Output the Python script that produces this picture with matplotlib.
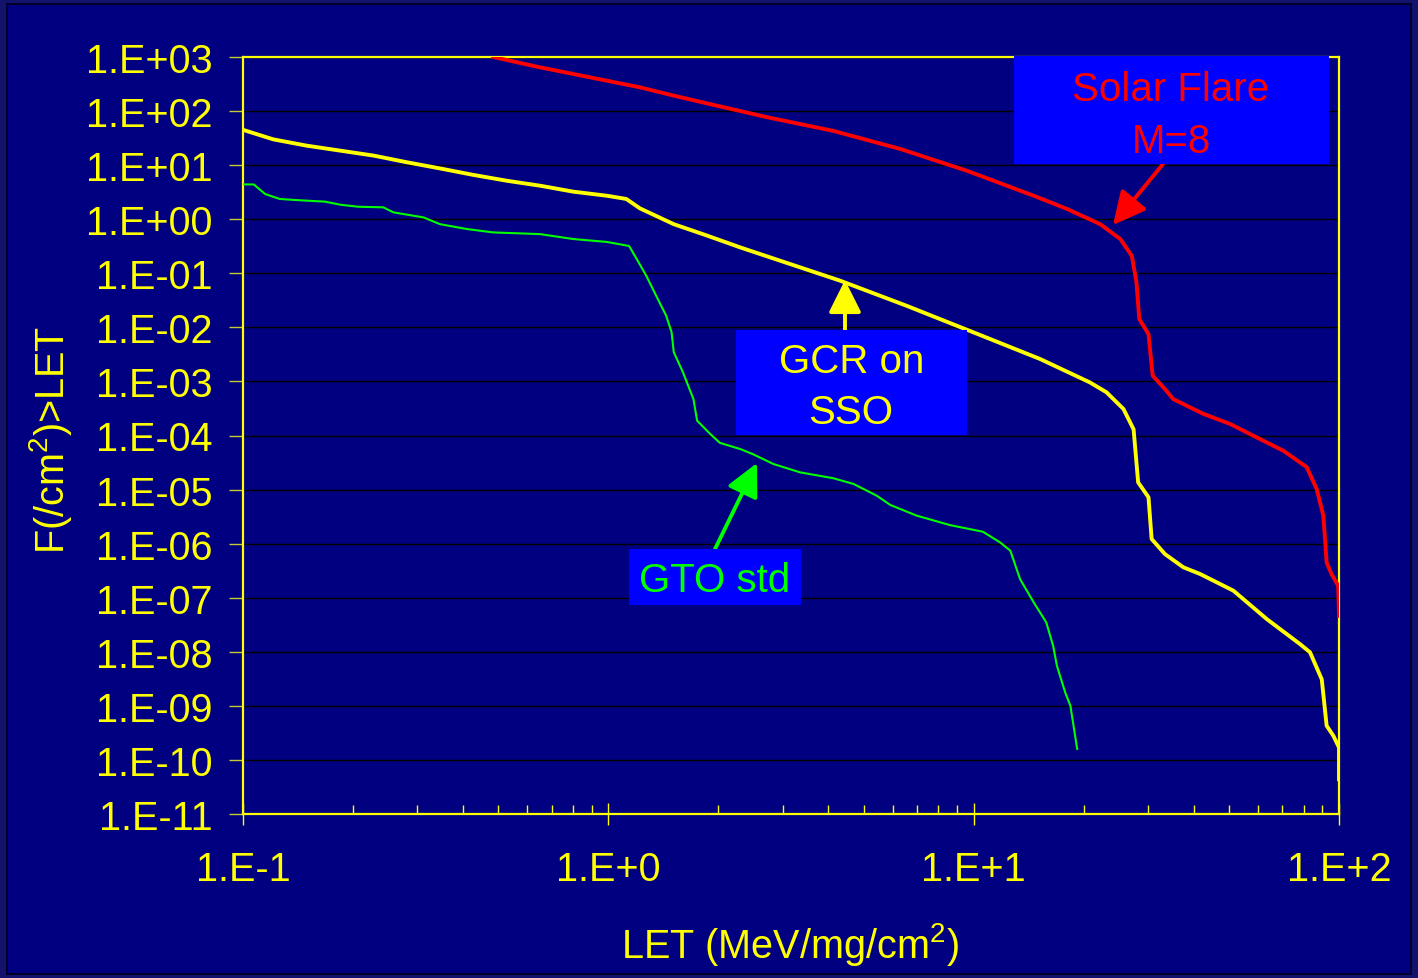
import matplotlib
matplotlib.use("Agg")
import matplotlib.pyplot as plt
from matplotlib.ticker import FixedLocator, FuncFormatter, NullLocator, LogLocator
from matplotlib.patches import Rectangle
import math

plt.rcParams['font.family'] = ['Liberation Sans', 'DejaVu Sans']
plt.rcParams['mathtext.fontset'] = 'custom'
plt.rcParams['mathtext.rm'] = 'Liberation Sans'
plt.rcParams['mathtext.default'] = 'regular'

# ---------------- data ----------------
gcr_let = [0.1, 0.121, 0.149, 0.185, 0.228, 0.281, 0.346, 0.427, 0.527, 0.650, 0.802, 0.99,
           1.12, 1.22, 1.51, 1.86, 2.30, 4.31, 6.56, 9.98, 15.2, 20.8, 23.1, 25.7, 27.4,
           28.2, 30.1, 30.7, 33.4, 37.5, 41.7, 51.4, 63.4, 78.2, 83.3, 89.7, 92.5, 96.5,
           100, 100]
gcr_flux = [45, 30, 23, 18.5, 15, 11.3, 8.7, 6.6, 5.15, 4.17, 3.23, 2.72,
            2.37, 1.59, 0.81, 0.50, 0.30, 0.073, 0.025, 0.0081, 0.0026, 9.6e-4, 6.3e-4, 3.1e-4, 1.3e-4,
            1.36e-5, 7.2e-6, 1.22e-6, 6.4e-7, 3.65e-7, 2.74e-7, 1.35e-7, 4.04e-8, 1.39e-8, 9.8e-9,
            3.1e-9, 4.3e-10, 2.8e-10, 1.7e-10, 4.4e-11]

flare_let = [0.484, 0.650, 0.802, 0.99, 1.22, 1.51, 1.86, 2.72, 4.13, 6.30, 9.57, 14.6, 18.0,
             22.2, 25.2, 27.1, 27.9, 28.4, 30.1, 30.9, 33.4, 35.2, 42.6, 50.4, 58.3, 70.5,
             81.6, 86.9, 90.6, 92.5, 95.4, 99.5, 100]
flare_flux = [1000, 644, 485, 365, 275, 193, 139, 77, 43, 19.9, 7.9, 2.72, 1.55,
              0.81, 0.43, 0.21, 0.068, 0.0143, 0.0075, 1.28e-3, 7.2e-4, 4.7e-4, 2.5e-4, 1.63e-4,
              9.9e-5, 5.2e-5, 2.6e-5, 1.02e-5, 3.3e-6, 4.5e-7, 2.74e-7, 1.67e-7, 4.6e-8]

gto_let = [0.1, 0.107, 0.115, 0.126, 0.137, 0.168, 0.185, 0.207, 0.242, 0.258, 0.312, 0.346,
           0.409, 0.484, 0.650, 0.802, 0.99, 1.14, 1.21, 1.27, 1.38, 1.44, 1.49, 1.51, 1.60,
           1.71, 1.75, 1.90, 2.02, 2.30, 2.49, 2.83, 3.35, 4.13, 4.69, 5.43, 5.91, 6.98, 8.62,
           10.6, 11.8, 12.6, 13.4, 14.6, 15.8, 16.5, 16.9, 17.8, 18.4, 19.2]
gto_flux = [4.4, 4.4, 2.92, 2.37, 2.28, 2.11, 1.85, 1.70, 1.66, 1.34, 1.08, 0.81,
            0.66, 0.57, 0.53, 0.43, 0.38, 0.32, 0.16, 0.09, 0.029, 0.0164, 0.0081, 0.0035, 0.00148,
            4.7e-4, 1.88e-4, 1.07e-4, 7.3e-5, 5.6e-5, 4.5e-5, 2.97e-5, 2.08e-5, 1.62e-5, 1.27e-5,
            7.7e-6, 5.2e-6, 3.3e-6, 2.2e-6, 1.66e-6, 1.06e-6, 7.4e-7, 2.2e-7, 8.2e-8, 3.5e-8,
            1.29e-8, 5.5e-9, 1.78e-9, 1.0e-9, 1.6e-10]

x_ticks = [0.1, 1, 10, 100]
y_ticks = [1e-11, 1e-10, 1e-9, 1e-8, 1e-7, 1e-6, 1e-5, 1e-4, 1e-3, 1e-2, 1e-1, 1, 1e1, 1e2, 1e3]

x_label = 'LET (MeV/mg/cm$^{2}$)'
y_label = 'F(/cm$^{2}$)>LET'
label_flare = ['Solar Flare', 'M=8']
label_gcr = ['GCR on', 'SSO']
label_gto = ['GTO std']

# ---------------- style ----------------
NAVY = '#000080'
YEL = '#FFFF00'
RED = '#FF0000'
GRN = '#00FF00'
BOXBLUE = '#0000FF'
W, H = 1418, 979
FS = 28.5
FSA = 29

fig = plt.figure(figsize=(W / 100, H / 100), dpi=100)
fig.patch.set_facecolor('#13136b')
fig.add_artist(Rectangle((7 / W, 4 / H), (W - 14) / W, (H - 9) / H, transform=fig.transFigure,
                         facecolor=NAVY, edgecolor='#000030', linewidth=1.5, zorder=-10))


def fx(px):
    return px / W


def fy(py):
    return 1 - py / H


ax = fig.add_axes([fx(243), fy(815), fx(1339) - fx(243), fy(58) - fy(815)])
ax.set_facecolor(NAVY)
ax.set_xscale('log')
ax.set_yscale('log')
ax.set_xlim(0.1, 100)
ax.set_ylim(1e-11, 1e3)

for s in ax.spines.values():
    s.set_color(YEL)
    s.set_linewidth(1.6)

ax.yaxis.set_major_locator(FixedLocator(y_ticks))
ax.yaxis.set_minor_locator(NullLocator())
ax.xaxis.set_major_locator(FixedLocator(x_ticks))
ax.xaxis.set_minor_locator(LogLocator(base=10, subs=range(2, 10), numticks=20))

ax.yaxis.set_major_formatter(FuncFormatter(lambda v, p: '1.E{:+03d}'.format(int(round(math.log10(v))))))
ax.xaxis.set_major_formatter(FuncFormatter(lambda v, p: '1.E{:+d}'.format(int(round(math.log10(v))))))

ax.tick_params(axis='y', which='major', direction='out', length=10, width=1, color='#c8c830',
               labelcolor=YEL, labelsize=FS, pad=12)
ax.tick_params(axis='x', which='major', direction='inout', length=16, width=1, color=YEL,
               labelcolor=YEL, labelsize=FS, pad=18)
ax.tick_params(axis='x', which='minor', direction='in', length=6.5, width=1, color=YEL)

ax.grid(axis='y', which='major', color='black', linewidth=1.0)
ax.set_axisbelow(True)

ax.plot(flare_let, flare_flux, color=RED, linewidth=2.8, zorder=3)
ax.plot(gcr_let, gcr_flux, color=YEL, linewidth=2.8, zorder=3)
ax.plot(gto_let, gto_flux, color=GRN, linewidth=1.5, zorder=3)

fig.text(fx(790), fy(945), x_label, color=YEL, fontsize=FS, ha='center', va='center')
fig.text(fx(50), fy(440), y_label, color=YEL, fontsize=FS, ha='center', va='center', rotation=90)


def box(x0, y0, x1, y1):
    fig.add_artist(Rectangle((fx(x0), fy(y1)), fx(x1) - fx(x0), fy(y0) - fy(y1),
                             transform=fig.transFigure, facecolor=BOXBLUE, edgecolor='none', zorder=5))


def arrow(tail, tip, color):
    ax.annotate('', xy=(tip[0], H - tip[1]), xycoords='figure pixels',
                xytext=(tail[0], H - tail[1]), textcoords='figure pixels',
                arrowprops=dict(arrowstyle='-|>,head_length=1.0,head_width=0.5', color=color,
                                lw=2.8, shrinkA=0, shrinkB=0, mutation_scale=20),
                annotation_clip=False, zorder=6)


# Solar flare annotation
box(1014, 57, 1329, 165)
fig.text(fx(1171), fy(101.5), label_flare[0], color=RED, fontsize=FSA, ha='center', va='baseline', zorder=7)
fig.text(fx(1171), fy(153), label_flare[1], color=RED, fontsize=FSA, ha='center', va='baseline', zorder=7)
arrow((1163, 165), (1113, 226), RED)

# GCR annotation
box(736, 331, 967, 436)
fig.text(fx(852), fy(373.5), label_gcr[0], color=YEL, fontsize=FSA, ha='center', va='baseline', zorder=7)
fig.text(fx(851), fy(423.5), label_gcr[1], color=YEL, fontsize=FSA, ha='center', va='baseline', zorder=7)
arrow((845, 331), (845, 281), YEL)

# GTO annotation
box(629, 550, 801, 606)
fig.text(fx(715), fy(592), label_gto[0], color=GRN, fontsize=FSA, ha='center', va='baseline', zorder=7)
arrow((715, 550), (757, 464), GRN)

fig.savefig('out.png', dpi=100, facecolor=fig.get_facecolor())
